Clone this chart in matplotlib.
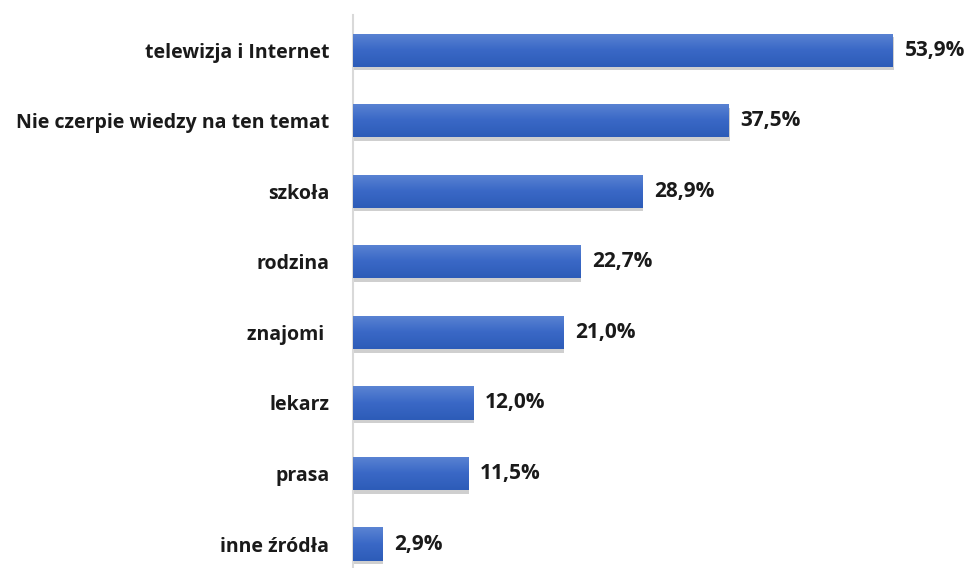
import numpy as np
import matplotlib.pyplot as plt
from matplotlib.patches import Rectangle
from matplotlib.colors import LinearSegmentedColormap

# dane
kategorie = ['telewizja i Internet', 'Nie czerpie wiedzy na ten temat', 'szkoła',
             'rodzina', 'znajomi ', 'lekarz', 'prasa', 'inne źródła']
wartosci = [53.9, 37.5, 28.9, 22.7, 21.0, 12.0, 11.5, 2.9]
etykiety = ['53,9%', '37,5%', '28,9%', '22,7%', '21,0%', '12,0%', '11,5%', '2,9%']

plt.rcParams['font.family'] = ['Open Sans', 'DejaVu Sans']

fig = plt.figure(figsize=(9.72, 5.68), dpi=100)
ax = fig.add_axes([353 / 972, 0, 600 / 972, 553 / 568])

y = np.arange(len(kategorie))
h = 0.47

# cień pod słupkami
for yi, v in zip(y, wartosci):
    ax.add_patch(Rectangle((0.1, yi - h / 2 + 0.05), v, h, color='#888888', alpha=0.4, lw=0, zorder=1))

bars = ax.barh(y, wartosci, height=h, color='#4472c4', zorder=2)

# gradient na słupkach
grad = np.linspace(0, 1, 100).reshape(-1, 1)
cmap = LinearSegmentedColormap.from_list('g', ['#5b84d3', '#3a68c6', '#2d5cb8'])
for b in bars:
    x0, y0 = b.get_x(), b.get_y()
    w, hh = b.get_width(), b.get_height()
    im = ax.imshow(grad, cmap=cmap, aspect='auto', extent=[x0, x0 + w, y0 + hh, y0], zorder=3)
    im.set_clip_path(b)

for yi, v, t in zip(y, wartosci, etykiety):
    ax.text(v + 1.2, yi, t, va='center', ha='left', fontsize=15, fontweight='bold', color='#1a1a1a')

ax.set_yticks(y)
ax.set_yticklabels(kategorie, fontsize=14, fontweight='bold', color='#1a1a1a')
ax.tick_params(axis='y', length=0, pad=17)
ax.set_xticks([])
ax.set_xlim(0, 59.9)
ax.set_ylim(7.34, -0.5)

for s in ['top', 'right', 'bottom']:
    ax.spines[s].set_visible(False)
ax.spines['left'].set_color('#d9d9d9')
ax.spines['left'].set_linewidth(1.5)

fig.savefig('out.png', dpi=100)
